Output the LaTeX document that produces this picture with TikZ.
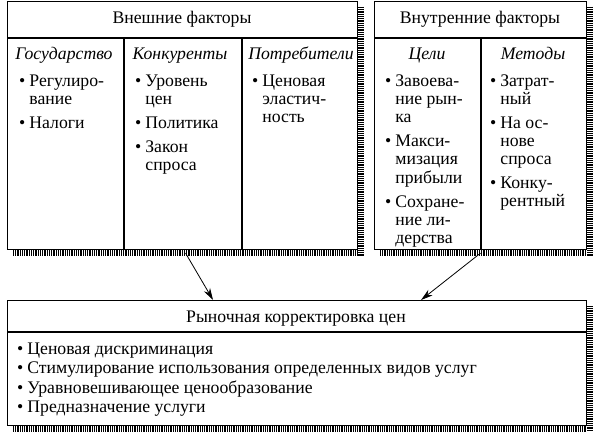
\documentclass[tikz,border=0pt]{standalone}
\usepackage{fontspec}
\setmainfont{Liberation Serif}
\usetikzlibrary{arrows.meta,calc}
\tikzset{
  box/.style={draw=black,line width=1.1pt,fill=white,inner sep=0pt},
  shadowline/.style={draw=black,line width=6pt,dash pattern=on 0.9pt off 0.9pt},
  sep/.style={draw=black,line width=1.1pt},
  ttl/.style={inner sep=0pt,anchor=base,font=\fs},
  ctl/.style={inner sep=0pt,anchor=base,font=\fs\itshape},
  lst/.style={inner sep=0pt,anchor=base west,font=\fs,align=left},
  arr/.style={draw=black,line width=0.8pt,-{Stealth[length=12pt,width=7pt]}}
}
\newcommand{\fs}{\fontsize{17.7}{18}\selectfont}
\newcommand{\bl}{\textbullet}
\begin{document}
\begin{tikzpicture}[x=1pt,y=-1pt]
\useasboundingbox (0,0) rectangle (598,436);
% boxes
\node[box,minimum width=350pt,minimum height=248pt,anchor=north west] (ext) at (7,1) {};
\node[box,minimum width=212pt,minimum height=248pt,anchor=north west] (int) at (374,1) {};
\node[box,minimum width=579pt,minimum height=125pt,anchor=north west] (res) at (7,300) {};
% shadows (halftone strips)
\draw[shadowline] (360.5,7) -- (360.5,255.5);
\draw[shadowline] (13,252.5) -- (357.5,252.5);
\draw[shadowline] (589.5,7) -- (589.5,255.5);
\draw[shadowline] (380,252.5) -- (586.5,252.5);
\draw[shadowline] (589.5,306) -- (589.5,431.5);
\draw[shadowline] (13,428.5) -- (586.5,428.5);
% separators
\draw[sep] (7,38) -- (357,38);
\draw[sep] (124,38) -- (124,249);
\draw[sep] (242,38) -- (242,249);
\draw[sep] (374,38) -- (586,38);
\draw[sep] (481,38) -- (481,249);
\draw[sep] (7,332) -- (586,332);
% titles
\node[ttl] (t1) at (182,24) {Внешние факторы};
\node[ttl] (t2) at (480,24) {Внутренние факторы};
\node[ttl] (t3) at (296,322) {Рыночная корректировка цен};
% column titles
\node[ctl] (c1) at (64,60) {Государство};
\node[ctl] (c2) at (180,60) {Конкуренты};
\node[ctl] (c3) at (301,60) {Потребители};
\node[ctl] (c4) at (427,60) {Цели};
\node[ctl] (c5) at (533,60) {Методы};
% lists
\node[lst] (l1) at (19,87) {\begin{tabular}[t]{@{}l@{\hspace{4pt}}l@{}}\bl&Регулиро-\\&вание\\[6pt]\bl&Налоги\end{tabular}};
\node[lst] (l2) at (135,87) {\begin{tabular}[t]{@{}l@{\hspace{4pt}}l@{}}\bl&Уровень\\&цен\\[6pt]\bl&Политика\\[6pt]\bl&Закон\\&спроса\end{tabular}};
\node[lst] (l3) at (252,87) {\begin{tabular}[t]{@{}l@{\hspace{4pt}}l@{}}\bl&Ценовая\\&эластич-\\&ность\end{tabular}};
\node[lst] (l4) at (385,87) {\begin{tabular}[t]{@{}l@{\hspace{4pt}}l@{}}\bl&Завоева-\\&ние рын-\\&ка\\[6pt]\bl&Макси-\\&мизация\\&прибыли\\[6pt]\bl&Сохране-\\&ние ли-\\&дерства\end{tabular}};
\node[lst] (l5) at (490,87) {\begin{tabular}[t]{@{}l@{\hspace{4pt}}l@{}}\bl&Затрат-\\&ный\\[6pt]\bl&На ос-\\&нове\\&спроса\\[6pt]\bl&Конку-\\&рентный\end{tabular}};
\node[lst] (l6) at (17,354) {\fontsize{17.7}{19.5}\selectfont\begin{tabular}[t]{@{}l@{\hspace{4pt}}l@{}}\bl&Ценовая дискриминация\\\bl&Стимулирование использования определенных видов услуг\\\bl&Уравновешивающее ценообразование\\\bl&Предназначение услуги\end{tabular}};
% arrows
\draw[arr] ([xshift=3pt,yshift=-3pt]ext.south) -- ([xshift=-84pt]res.north);
\draw[arr] ([yshift=-3pt]int.south) -- ([xshift=124pt]res.north);
\end{tikzpicture}
\end{document}
